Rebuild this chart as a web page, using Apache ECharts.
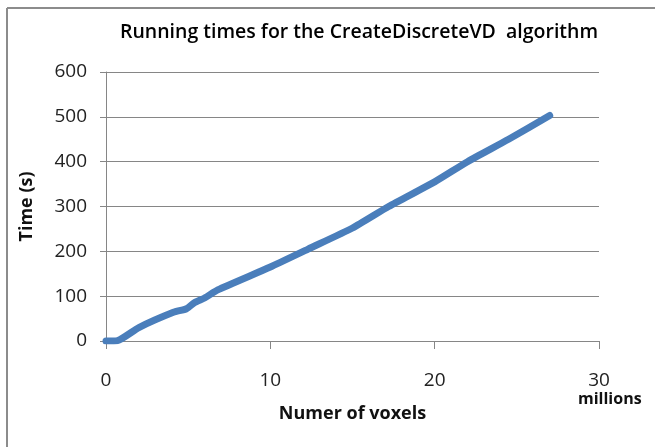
<!DOCTYPE html>
<html>
<head>
<meta charset="utf-8">
<script src="https://cdn.jsdelivr.net/npm/echarts@6/dist/echarts.min.js"></script>
<style>
  html, body { margin: 0; padding: 0; background: #fff; }
  #chart { width: 655px; height: 447px; }
</style>
</head>
<body>
<div id="chart"></div>
<script>
// Voxel counts (millions) and measured running times (seconds)
const voxelsMillions = [0, 0.7, 2.0, 4.1, 4.9, 5.4, 6.0, 6.8, 10.0, 12.3, 15.0, 17.2, 20.0, 22.0, 24.5, 27.0];
const runningTimes   = [0, 1,   30,  64,  72,  86,  96,  114, 165,  205,  252,  300,  355,  400,  450,  503];
const xTicks = [0, 10, 20, 30];
const yTicks = [0, 100, 200, 300, 400, 500, 600];

const FONT = '"Open Sans", "Noto Sans", sans-serif';
const points = voxelsMillions.map((v, i) => [v, runningTimes[i]]);

const chart = echarts.init(document.getElementById('chart'), null, { renderer: 'canvas' });
chart.setOption({
  animation: false,
  backgroundColor: '#ffffff',
  title: {
    text: 'Running times for the CreateDiscreteVD  algorithm',
    left: 354,
    textAlign: 'center',
    top: 17,
    textStyle: { fontFamily: FONT, fontSize: 19.5, fontWeight: 600, color: '#000' }
  },
  grid: { left: 106, right: 56, top: 72, bottom: 106 },
  xAxis: {
    type: 'value',
    min: xTicks[0],
    max: xTicks[xTicks.length - 1],
    interval: 10,
    name: 'Numer of voxels',
    nameLocation: 'middle',
    nameGap: 64,
    nameTextStyle: { fontFamily: FONT, fontSize: 18, fontWeight: 'bold', color: '#111' },
    axisLine: { lineStyle: { color: '#868686', width: 1 } },
    axisTick: { show: true, length: 8, lineStyle: { color: '#868686' } },
    axisLabel: { fontFamily: FONT, fontSize: 19, color: '#222', margin: 30 },
    splitLine: { show: false }
  },
  yAxis: {
    type: 'value',
    min: yTicks[0],
    max: yTicks[yTicks.length - 1],
    interval: 100,
    name: 'Time (s)',
    nameLocation: 'middle',
    nameGap: 70,
    nameTextStyle: { fontFamily: FONT, fontSize: 18, fontWeight: 'bold', color: '#111' },
    axisLine: { show: true, lineStyle: { color: '#868686', width: 1 } },
    axisTick: { show: true, length: 6, lineStyle: { color: '#868686' } },
    axisLabel: { fontFamily: FONT, fontSize: 19, color: '#222', margin: 19 },
    splitLine: { show: true, lineStyle: { color: '#868686', width: 1 } }
  },
  graphic: [
    { type: 'line', shape: { x1: 7, y1: 8, x2: 655, y2: 8 }, style: { stroke: '#8c8c8c', lineWidth: 2 } },
    { type: 'line', shape: { x1: 7, y1: 8, x2: 7, y2: 447 }, style: { stroke: '#8c8c8c', lineWidth: 2 } },
    {
      type: 'text', left: 578, top: 391,
      style: { text: 'millions', fontFamily: FONT, fontSize: 16, fontWeight: 'bold', fill: '#111' }
    }
  ],
  series: [{
    type: 'line',
    data: points,
    smooth: 0.2,
    showSymbol: false,
    lineStyle: { color: '#4a7ebb', width: 7, cap: 'round', join: 'round' }
  }]
});
</script>
</body>
</html>
